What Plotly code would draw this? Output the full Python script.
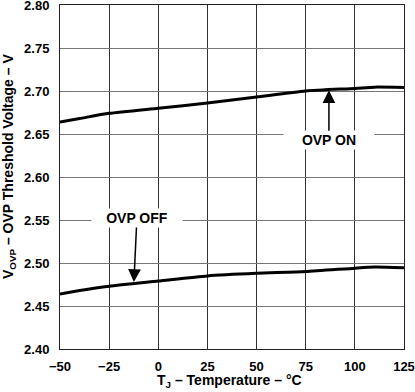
import plotly.graph_objects as go

temps = [-50, -40, -25, 0, 25, 50, 75, 100, 110, 125]
ovp_on = [2.664, 2.668, 2.674, 2.680, 2.686, 2.693, 2.700, 2.703, 2.7045, 2.704]
ovp_off = [2.464, 2.468, 2.473, 2.479, 2.485, 2.488, 2.490, 2.494, 2.4953, 2.4945]
x_ticks = [-50, -25, 0, 25, 50, 75, 100, 125]
y_ticks = [2.40, 2.45, 2.50, 2.55, 2.60, 2.65, 2.70, 2.75, 2.80]

FONT = "Liberation Sans, Arial, sans-serif"

fig = go.Figure()
for ys in (ovp_on, ovp_off):
    fig.add_trace(go.Scatter(x=temps, y=ys, mode="lines",
                             line=dict(color="black", width=3, shape="spline", smoothing=0.6),
                             showlegend=False, hoverinfo="skip"))

fig.update_layout(
    width=415, height=392,
    margin=dict(l=60, r=11, t=5, b=43, autoexpand=False),
    paper_bgcolor="white", plot_bgcolor="white",
    font=dict(family=FONT, color="black"),
    xaxis=dict(range=[-50, 125], tickvals=x_ticks, ticktext=[str(v).replace("-", "\u2212") for v in x_ticks],
               showgrid=True, gridcolor="#333", gridwidth=1, zeroline=False, automargin=False,
               showline=True, linecolor="#222", linewidth=1, mirror=True, ticklabeloverflow="allow",
               tickfont=dict(size=13, family=FONT, weight="bold"), ticks="", ticklabelstandoff=5),
    yaxis=dict(range=[2.40, 2.80], tickvals=y_ticks, ticktext=[f"{v:.2f}" for v in y_ticks],
               showgrid=True, gridcolor="#777", gridwidth=1, zeroline=False, automargin=False,
               showline=True, linecolor="#222", linewidth=1, mirror=True, ticklabeloverflow="allow",
               tickfont=dict(size=13, family=FONT, weight="bold"), ticks="", ticklabelstandoff=7),
)

fig.add_annotation(x=86.8, y=2.701, xref="x", yref="y", text="<b>OVP ON</b>",
                   showarrow=True, ax=0, ay=50, arrowhead=2, arrowsize=1.7, arrowwidth=1.5,
                   arrowcolor="black", bgcolor="white", width=88, height=16,
                   font=dict(size=14, family=FONT, color="black"))
fig.add_annotation(x=-12.4, y=2.478, xref="x", yref="y", text="<b>OVP OFF</b>",
                   showarrow=True, ax=3, ay=-64, arrowhead=2, arrowsize=1.7, arrowwidth=1.5,
                   arrowcolor="black", bgcolor="white", width=88, height=16,
                   font=dict(size=14, family=FONT, color="black"))

fig.add_annotation(x=(229 - 60) / 344, y=(349 - 381) / 344, xref="paper", yref="paper",
                   text="<b>T<sub>J</sub> \u2013 Temperature \u2013 \u00b0C</b>", showarrow=False,
                   xanchor="center", yanchor="middle", font=dict(size=14, family=FONT, color="black"))
fig.add_annotation(x=(9 - 60) / 344, y=(349 - 167) / 344, xref="paper", yref="paper",
                   text="<b>V<sub>OVP</sub> \u2013 OVP Threshold Voltage \u2013 V</b>", showarrow=False,
                   textangle=-90, xanchor="center", yanchor="middle",
                   font=dict(size=14, family=FONT, color="black"))

fig.write_html("out.html", config={"displayModeBar": False},
               post_script="document.body.style.margin='0';document.body.style.padding='0';")
